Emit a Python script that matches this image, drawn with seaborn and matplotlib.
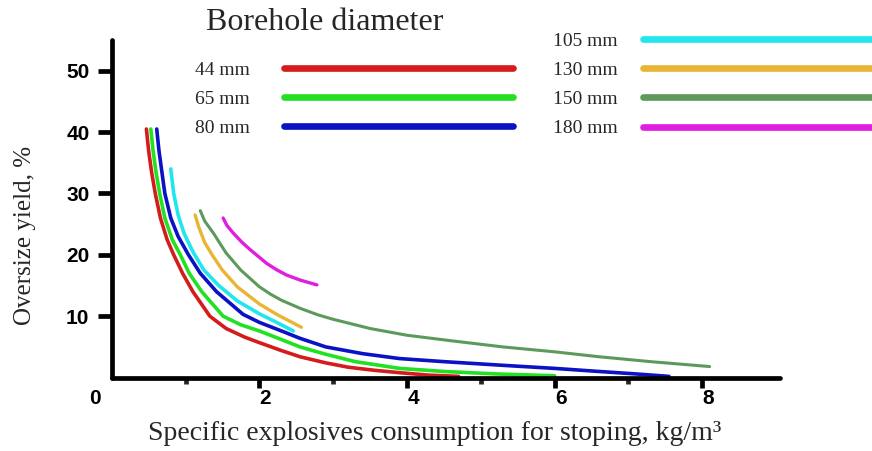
import pandas as pd
import seaborn as sns
import matplotlib.pyplot as plt
import matplotlib.transforms as mtransforms

# borehole diameters and colours
labels = ['44 mm', '65 mm', '80 mm', '105 mm', '130 mm', '150 mm', '180 mm']
colors = ['#d41c1c', '#22e022', '#0a12c4', '#22e6ee', '#e8b634', '#5c9a5c', '#e01ee0']

# curves (x = kg/m3, y = %)
x44 = [0.47, 0.50, 0.54, 0.59, 0.66, 0.75, 0.84, 0.96, 1.10, 1.33, 1.55, 1.80, 2.00, 2.30, 2.55, 2.90, 3.20, 3.55, 3.90, 4.30, 4.70]
y44 = [40.5, 37.0, 33.5, 30.0, 26.0, 22.5, 20.0, 17.0, 14.0, 10.0, 8.0, 6.6, 5.7, 4.4, 3.4, 2.4, 1.7, 1.2, 0.8, 0.4, 0.2]
x65 = [0.53, 0.56, 0.60, 0.65, 0.72, 0.82, 0.93, 1.05, 1.22, 1.51, 1.75, 2.00, 2.30, 2.55, 2.90, 3.30, 3.90, 4.50, 5.20, 6.00]
y65 = [40.5, 37.0, 33.5, 30.0, 26.0, 22.5, 20.0, 17.0, 14.0, 10.0, 8.6, 7.6, 6.2, 5.0, 3.8, 2.6, 1.5, 1.0, 0.6, 0.3]
x80 = [0.61, 0.64, 0.68, 0.72, 0.80, 0.90, 1.04, 1.20, 1.42, 1.78, 2.00, 2.30, 2.55, 2.90, 3.40, 3.90, 4.50, 5.30, 6.00, 6.60, 7.10, 7.55]
y80 = [40.5, 37.0, 33.5, 30.0, 26.0, 23.0, 20.0, 17.0, 14.0, 10.3, 9.0, 7.6, 6.4, 5.0, 3.9, 3.1, 2.6, 2.0, 1.5, 1.0, 0.6, 0.2]
x105 = [0.80, 0.84, 0.90, 0.98, 1.10, 1.25, 1.45, 1.70, 2.00, 2.20, 2.46]
y105 = [34.0, 30.0, 26.5, 23.5, 20.5, 17.5, 15.0, 12.5, 10.4, 9.2, 7.6]
x130 = [1.13, 1.18, 1.26, 1.36, 1.50, 1.70, 2.00, 2.25, 2.57]
y130 = [26.5, 24.5, 22.0, 20.0, 17.5, 14.8, 12.0, 10.2, 8.2]
x150 = [1.20, 1.26, 1.38, 1.55, 1.75, 2.00, 2.15, 2.30, 2.55, 2.80, 3.00, 3.50, 4.00, 4.60, 5.30, 6.00, 6.60, 7.30, 8.10]
y150 = [27.2, 25.5, 23.5, 20.3, 17.5, 14.8, 13.6, 12.6, 11.3, 10.2, 9.5, 8.0, 6.9, 6.0, 5.0, 4.2, 3.4, 2.6, 1.8]
x180 = [1.51, 1.56, 1.65, 1.76, 1.88, 2.00, 2.10, 2.23, 2.37, 2.55, 2.78]
y180 = [26.0, 24.8, 23.5, 22.1, 20.8, 19.6, 18.6, 17.6, 16.7, 15.9, 15.1]

xs = [x44, x65, x80, x105, x130, x150, x180]
ys = [y44, y65, y80, y105, y130, y150, y180]
widths = [2.6, 2.6, 2.6, 2.6, 2.4, 2.2, 2.4]

xticks = [0, 2, 4, 6, 8]
yticks = [10, 20, 30, 40, 50]

sns.set_style('white')
plt.rcParams['font.family'] = ['Liberation Sans', 'DejaVu Sans']

fig = plt.figure(figsize=(8.72, 4.51), dpi=100)
ax = fig.add_axes([111.7 / 872, 1 - 377.6 / 451, 668 / 872, 337.6 / 451])

handles = []
for x, y, c, lw, lbl in zip(xs, ys, colors, widths, labels):
    df = pd.DataFrame({'x': x, 'y': y})
    sns.lineplot(data=df, x='x', y='y', color=c, linewidth=lw, sort=False,
                 estimator=None, ax=ax, legend=False, solid_capstyle='round')
    line = ax.lines[-1]
    line.set_label(lbl)
    handles.append(line)

ax.set_xlim(0, 9.05)
ax.set_ylim(0, 55)
for s in ['top', 'right']:
    ax.spines[s].set_visible(False)
for s in ['left', 'bottom']:
    ax.spines[s].set_linewidth(3.4)
    ax.spines[s].set_color('black')
    ax.spines[s].set_capstyle('round')

ax.set_xticks(xticks)
ax.set_xticklabels([str(t) for t in xticks])
ax.set_xticks([1, 3, 5, 7], minor=True)
ax.set_yticks(yticks)
ax.set_yticklabels([str(t) for t in yticks])
ax.tick_params(axis='x', which='major', direction='out', length=7, width=3.4,
               labelsize=15, pad=1, colors='black', bottom=True)
ax.tick_params(axis='x', which='minor', direction='out', length=4, width=3.4, bottom=True)
ax.tick_params(axis='y', which='major', direction='out', length=10, width=3.4,
               labelsize=15, pad=6, colors='black', left=True)
for lab in ax.get_xticklabels() + ax.get_yticklabels():
    lab.set_fontweight('bold')
ax.xaxis.get_major_ticks()[0].tick1line.set_visible(False)
for i, lab in enumerate(ax.get_xticklabels()):
    dx = -17 if i == 0 else 6
    lab.set_transform(lab.get_transform() + mtransforms.ScaledTranslation(dx / 100, 0, fig.dpi_scale_trans))

serif = ['Liberation Serif', 'DejaVu Serif']
ax.set_xlabel('Specific explosives consumption for stoping, kg/m³', fontsize=20,
              family=serif)
ax.xaxis.set_label_coords((435 - 111.7) / 668, (377.6 - 433) / 337.6)
ax.set_ylabel('Oversize yield, %', fontsize=18, family=serif)
ax.yaxis.set_label_coords((25 - 111.7) / 668, (377.6 - 235) / 337.6)
ax.xaxis.label.set_va('center')
ax.yaxis.label.set_va('center')

fig.text(325 / 872, 1 - 22 / 451, 'Borehole diameter', fontsize=23, family=serif,
         ha='center', va='center')

leg_kw = dict(loc='upper left', markerfirst=False, frameon=False, borderpad=0,
              borderaxespad=0, labelspacing=0.6, prop={'family': serif, 'size': 14},
              bbox_transform=fig.transFigure)
leg1 = ax.legend(handles=handles[:3], bbox_to_anchor=(195 / 872, 1 - 61 / 451),
                 handlelength=11.75, handletextpad=1.76, **leg_kw)
ax.add_artist(leg1)
leg2 = ax.legend(handles=handles[3:], bbox_to_anchor=(553 / 872, 1 - 32 / 451),
                 handlelength=12.2, handletextpad=1.3, **leg_kw)
for leg in (leg1, leg2):
    for h in leg.legend_handles:
        h.set_linewidth(4.8)
        h.set_solid_capstyle('round')

fig.savefig('out.png', dpi=100)
